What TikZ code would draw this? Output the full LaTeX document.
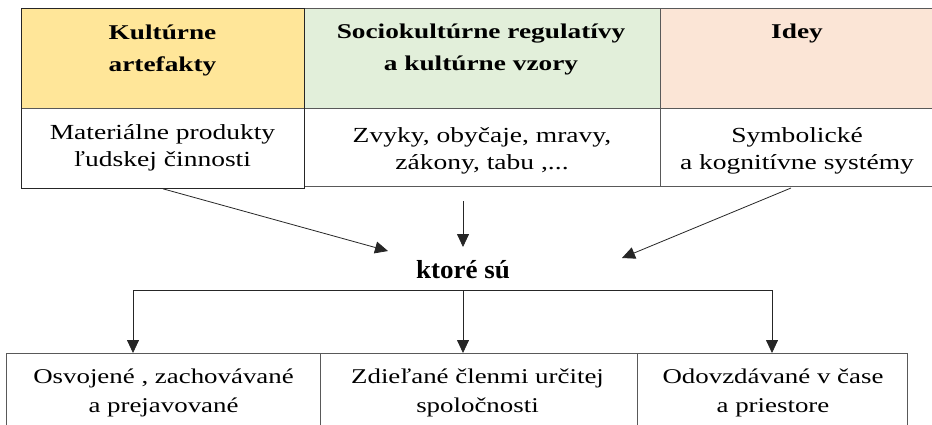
\documentclass[tikz,border=0pt]{standalone}
\usepackage{fontspec}
\setmainfont{Liberation Serif}
\newfontfamily\hdrf[FakeStretch=1.3]{Liberation Serif}
\newfontfamily\bodyf[FakeStretch=1.28]{Liberation Serif}
\newfontfamily\midf[FakeStretch=1.04]{Liberation Serif}
\usetikzlibrary{arrows.meta}
\definecolor{cYellow}{HTML}{FFE699}
\definecolor{cGreen}{HTML}{E2EFDA}
\definecolor{cPeach}{HTML}{FBE5D6}
\definecolor{cLine}{HTML}{595959}
\definecolor{cDark}{HTML}{262626}
\begin{document}
\begin{tikzpicture}[x=1pt,y=-1pt,
  box/.style={draw=cLine, line width=0.8pt, inner sep=0pt, anchor=north west},
  hdrtext/.style={anchor=base, align=center, inner sep=0pt,
    font=\hdrf\bfseries\fontsize{21}{32}\selectfont},
  bodytext/.style={anchor=base, align=center, inner sep=0pt,
    font=\bodyf\fontsize{21.5}{27}\selectfont},
  lowtext/.style={anchor=base, align=center, inner sep=0pt,
    font=\bodyf\fontsize{21}{29}\selectfont},
  midtext/.style={anchor=base, inner sep=0pt,
    font=\midf\bfseries\fontsize{26}{30}\selectfont},
  conn/.style={draw=cDark, line width=0.8pt},
  arr/.style={conn, -{Triangle[length=13pt,width=12pt]}}
]
\useasboundingbox (0,0) rectangle (932,425);
\clip (0,0) rectangle (932,425);
\fill[white] (0,0) rectangle (932,425);

% top boxes
\node[box, fill=cYellow, minimum width=283pt, minimum height=100pt] (h1) at (21,8) {};
\node[box, fill=white, minimum width=283pt, minimum height=80pt] (b1) at (21,108) {};
\node[box, fill=cGreen, minimum width=356pt, minimum height=100pt] (h2) at (304,8) {};
\node[box, fill=white, minimum width=356pt, minimum height=78pt] (b2) at (304,108) {};
\node[box, fill=cPeach, minimum width=276pt, minimum height=100pt] (h3) at (660,8) {};
\node[box, fill=white, minimum width=276pt, minimum height=78pt] (b3) at (660,108) {};
\draw[draw=cDark, line width=0.8pt] (21,8) rectangle (304,188);

% top texts (anchor = baseline of the last line)
\node[hdrtext] (t1) at (162.5,72) {Kultúrne\\artefakty};
\node[hdrtext] (t2) at (481,71) {Sociokultúrne regulatívy\\a kultúrne vzory};
\node[hdrtext] (t3) at (797,39) {Idey};
\node[bodytext] (s1) at (162.5,167) {Materiálne produkty\\ľudskej činnosti};
\node[bodytext] (s2) at (482,170) {Zvyky, obyčaje, mravy,\\zákony, tabu ,...};
\node[bodytext] (s3) at (797,170) {Symbolické\\a kognitívne systémy};

% middle
\node[midtext] (k) at (463,278) {ktoré sú};

% lower boxes
\node[box, fill=white, minimum width=314pt, minimum height=80pt] (o1) at (6,353) {};
\node[box, fill=white, minimum width=317pt, minimum height=80pt] (o2) at (320,353) {};
\node[box, fill=white, minimum width=270pt, minimum height=80pt] (o3) at (637,353) {};
\node[lowtext] (l1) at (163.5,412) {Osvojené , zachovávané\\a prejavované};
\node[lowtext] (l2) at (477.5,412) {Zdieľané členmi určitej\\spoločnosti};
\node[lowtext] (l3) at (773,412) {Odovzdávané v čase\\a priestore};

% upper connectors
\coordinate (e1) at (388,251);
\coordinate (s2a) at (463,201);
\coordinate (e2) at (463,247);
\coordinate (s3a) at (791,188);
\coordinate (e3) at (622,258);
\draw[arr] (b1.south) -- (e1);
\draw[arr] (s2a) -- (e2);
\draw[arr] (s3a) -- (e3);

% lower connectors
\coordinate (hl) at (133,290);
\coordinate (hm) at (463,290);
\coordinate (hr) at (772,290);
\draw[conn] (hl) -- (hr);
\draw[arr] (hl) -- (hl |- o1.north);
\draw[arr] (hm) -- (hm |- o2.north);
\draw[arr] (hr) -- (hr |- o3.north);
\end{tikzpicture}
\end{document}
